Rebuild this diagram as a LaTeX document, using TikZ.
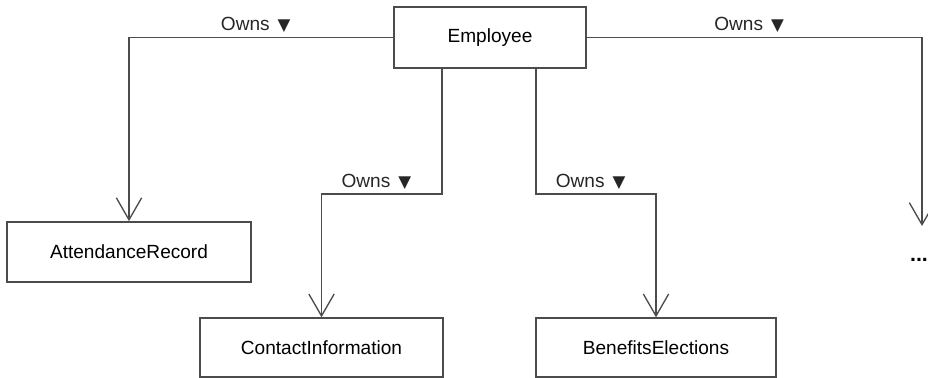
\documentclass[tikz,border=0pt]{standalone}
\usepackage{fontspec}
\setmainfont{Liberation Sans}
\newfontfamily\symfont{DejaVu Sans}
\usetikzlibrary{arrows.meta}
\newcommand{\ownslabel}{Owns\hspace{6pt}{\symfont\fontsize{12.5}{12.5}\selectfont ▼}}

\begin{document}
\begin{tikzpicture}[x=0.75pt,y=-0.75pt,
    font=\fontsize{14.3}{17}\selectfont,
    cls/.style={draw=black!70,line width=1.3pt,minimum height=45pt,inner sep=0pt},
    owns/.style={draw=black!70,line width=1pt,-{Straight Barb[length=16.5pt,width=19pt]}},
    lbl/.style={above,inner sep=3pt,xshift=-4pt,text=black!85}]
    \useasboundingbox (0,0) rectangle (928,378);

    \node[cls,minimum width=144pt,minimum height=45.75pt] (employee) at (490,37.5) {Employee};
    \node[cls,minimum width=183pt] (attendance) at (129,252) {AttendanceRecord};
    \node[cls,minimum width=182pt,minimum height=44pt] (contact) at (321.5,347.5) {ContactInformation};
    \node[cls,minimum width=180pt,minimum height=44pt] (benefits) at (656,347.5) {BenefitsElections};
    \node[font=\bfseries\fontsize{16}{17}\selectfont,inner sep=0pt] (more) at (919,260) {...};
    \coordinate (etc) at (922,226);

    \draw[owns] (employee.west) -| node[lbl,pos=0.25] {\ownslabel} (attendance.north);
    \draw[owns] (employee.east) -| node[lbl,pos=0.25] {\ownslabel} (etc);
    \draw[owns] ([xshift=-36pt]employee.south) -- ++(0,125)
        -| node[lbl,pos=0.25] {\ownslabel} (contact.north);
    \draw[owns] ([xshift=34.5pt]employee.south) -- ++(0,125)
        -| node[lbl,pos=0.25] {\ownslabel} (benefits.north);
\end{tikzpicture}
\end{document}
